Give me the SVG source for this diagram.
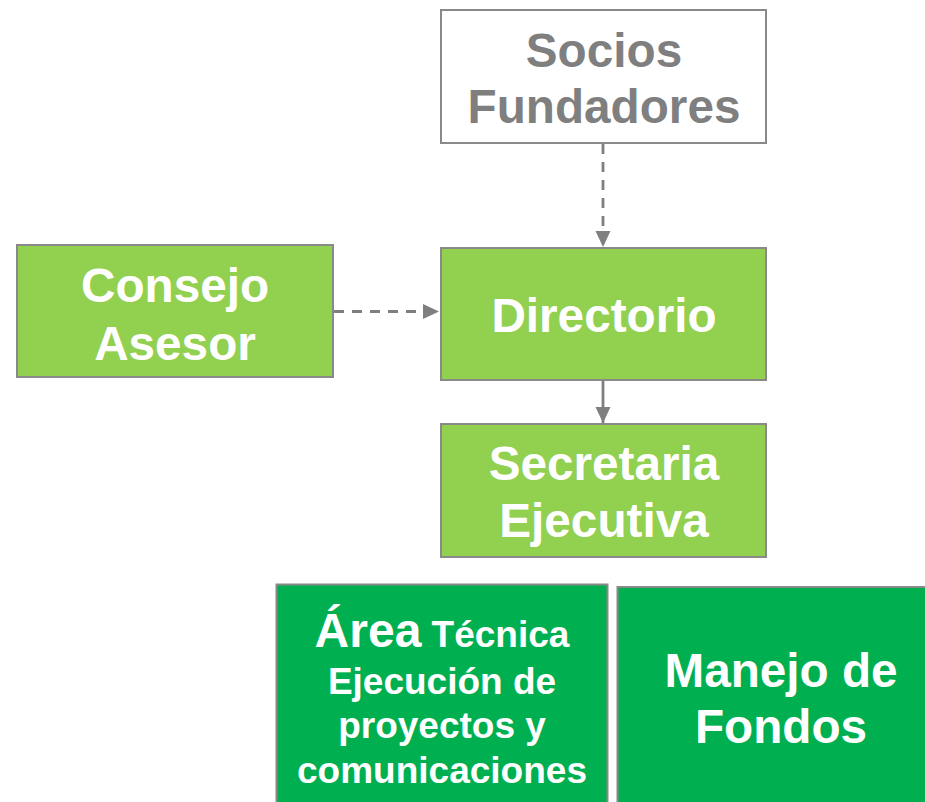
<svg xmlns="http://www.w3.org/2000/svg" width="925" height="802" viewBox="0 0 925 802">
  <defs>
    <style>
      .box { stroke: #898989; stroke-width: 2; }
      .white { fill: #ffffff; }
      .light { fill: #92d050; }
      .dark { fill: #00b050; }
      text { font-family: "Liberation Sans", Arial, sans-serif; font-weight: bold; text-anchor: middle; }
      .t47 { font-size: 47.7px; fill: #ffffff; }
      .t36 { font-size: 37px; fill: #ffffff; }
      .grey { fill: #7f7f7f; }
      .conn { stroke: #7f7f7f; stroke-width: 2.8; fill: none; }
      .dash { stroke-dasharray: 10 8; }
    </style>
    <marker id="arrow" markerUnits="userSpaceOnUse" markerWidth="16" markerHeight="16" viewBox="0 0 16 16" refX="16" refY="8" orient="auto">
      <path d="M0,0.5 L16,8 L0,15.5 Z" fill="#7f7f7f"/>
    </marker>
  </defs>

  <g id="connectors">
    <line class="conn dash" x1="603" y1="144" x2="603" y2="247" marker-end="url(#arrow)"/>
    <line class="conn dash" x1="334" y1="311.5" x2="439" y2="311.5" marker-end="url(#arrow)"/>
    <line class="conn" x1="603" y1="381" x2="603" y2="423" marker-end="url(#arrow)"/>
  </g>

  <g id="socios">
    <rect class="box white" x="441" y="10" width="325" height="133"/>
    <text class="t47 grey" x="604" y="67">Socios</text>
    <text class="t47 grey" x="604" y="123">Fundadores</text>
  </g>

  <g id="consejo">
    <rect class="box light" x="17" y="245" width="316" height="132"/>
    <text class="t47" x="175" y="302">Consejo</text>
    <text class="t47" x="175" y="360">Asesor</text>
  </g>

  <g id="directorio">
    <rect class="box light" x="441" y="248" width="325" height="132"/>
    <text class="t47" x="604" y="332">Directorio</text>
  </g>

  <g id="secretaria">
    <rect class="box light" x="441" y="424" width="325" height="133"/>
    <text class="t47" x="604" y="480">Secretaria</text>
    <text class="t47" x="604" y="537">Ejecutiva</text>
  </g>

  <g id="area-tecnica">
    <rect class="box dark" x="276.5" y="584.5" width="331" height="240"/>
    <text class="t36" x="442" y="647"><tspan font-size="48px">Área</tspan> Técnica</text>
    <text class="t36" x="442" y="694">Ejecución de</text>
    <text class="t36" x="442" y="738">proyectos y</text>
    <text class="t36" x="442" y="783">comunicaciones</text>
  </g>

  <g id="manejo-fondos">
    <rect class="box dark" x="617.5" y="587" width="330" height="240"/>
    <text class="t47" x="781" y="687">Manejo de</text>
    <text class="t47" x="781" y="743">Fondos</text>
  </g>
</svg>
